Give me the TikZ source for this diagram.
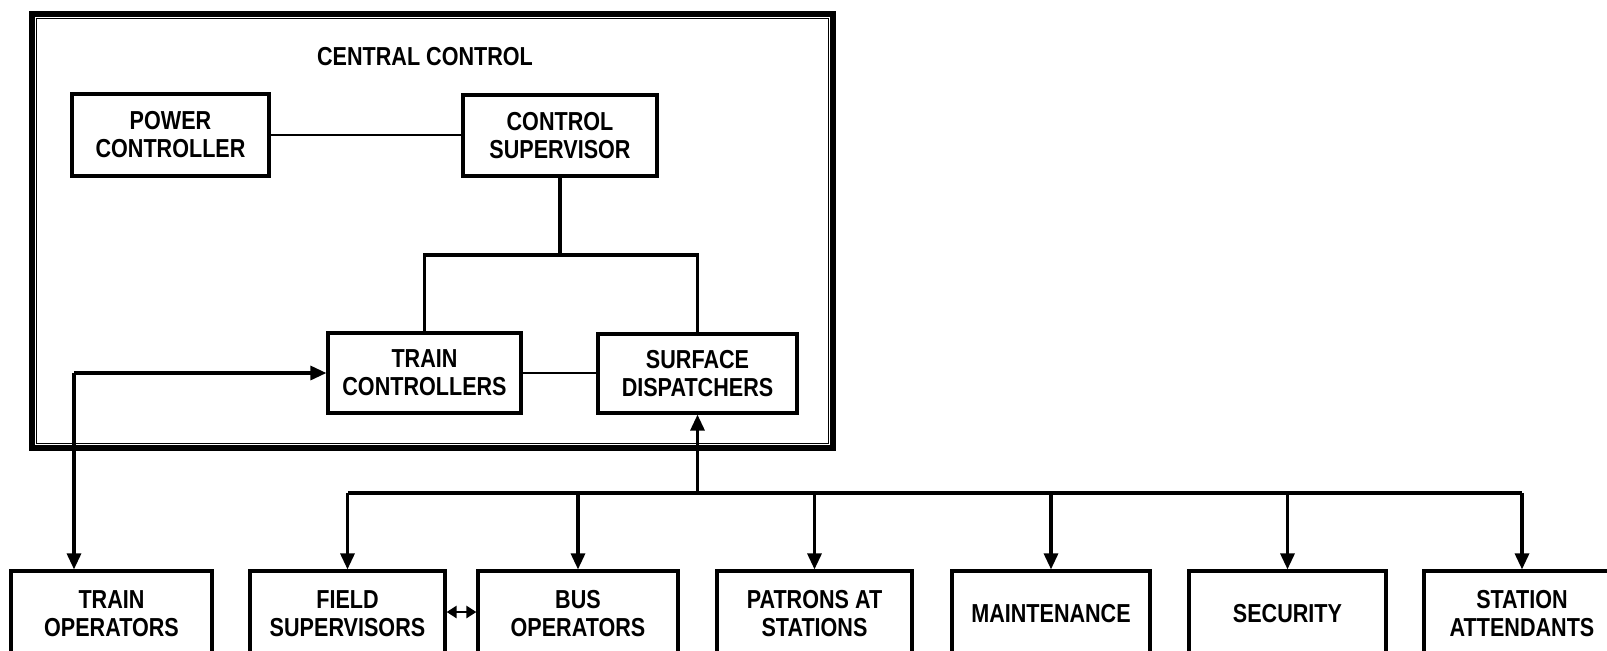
\documentclass[tikz,border=0pt]{standalone}
\usepackage{fontspec}
\setmainfont{Liberation Sans}[FakeStretch=0.83]
\usetikzlibrary{arrows.meta}
\begin{document}
\begin{tikzpicture}[x=0.5pt,y=-0.5pt,
  lbl/.style={font=\bfseries\fontsize{13}{14}\selectfont, align=center},
  box/.style={lbl, draw, line width=1.6pt, inner sep=0pt},
  conn/.style={line width=1.6pt},
  thinconn/.style={line width=1.2pt},
  arr/.style={conn, -{Triangle[length=8pt,width=7pt]}},
  bidir/.style={line width=1.4pt, {Triangle[length=5pt,width=6pt]}-{Triangle[length=5pt,width=6pt]}},
]
\useasboundingbox (0,0) rectangle (1607,650);
\clip (0,0) rectangle (1607,650);
\fill[white] (0,0) rectangle (1607,650);

% central control frame
\node[draw, line width=2.6pt, minimum width=400.5pt, minimum height=217pt, inner sep=0pt] (cc) at (432.5,231) {};
\draw[line width=0.7pt] ([shift={(7,7)}]cc.north west) rectangle ([shift={(-7,-7)}]cc.south east);
\node[lbl] (title) at (425,57) {CENTRAL CONTROL};

% inner boxes
\node[box, minimum width=98.5pt, minimum height=41pt] (PC) at (170.5,135) {POWER\\CONTROLLER};
\node[box, minimum width=97pt, minimum height=40.5pt] (CS) at (560,135.5) {CONTROL\\SUPERVISOR};
\node[box, minimum width=96.5pt, minimum height=40pt] (TC) at (424.5,373) {TRAIN\\CONTROLLERS};
\node[box, minimum width=99.5pt, minimum height=39.5pt] (SD) at (697.5,373.5) {SURFACE\\DISPATCHERS};

% bottom boxes
\node[box, minimum width=100.5pt, minimum height=43pt] (TO) at (111.5,614) {TRAIN\\OPERATORS};
\node[box, minimum width=97.5pt, minimum height=43pt] (FS) at (347.5,614) {FIELD\\SUPERVISORS};
\node[box, minimum width=100pt, minimum height=43pt] (BO) at (578,614) {BUS\\OPERATORS};
\node[box, minimum width=97.5pt, minimum height=43pt] (PS) at (814.5,614) {PATRONS AT\\STATIONS};
\node[box, minimum width=99pt, minimum height=43pt] (MA) at (1051,614) {MAINTENANCE};
\node[box, minimum width=98.5pt, minimum height=43pt] (SE) at (1287.5,614) {SECURITY};
\node[box, minimum width=98pt, minimum height=43pt] (ST) at (1522,614) {STATION\\ATTENDANTS};

% connectors inside central control
\draw[thinconn] (PC.east) -- (PC.east -| CS.west);
\coordinate (split) at (560,255);
\draw[conn] (CS.south) -- (CS.south |- split);
\draw[conn] (TC.north) -- (TC.north |- split) -- (SD.north |- split) -- (SD.north);
\draw[thinconn] (TC.east) -- (TC.east -| SD.west);

% train operators link
\coordinate (tcin) at (74,373);
\draw[arr] (tcin) -- (TC.west);
\draw[arr] (tcin) -- (tcin |- TO.north);

% surface bus
\coordinate (busL) at (348,493);
\coordinate (busR) at (1522,493);
\draw[conn] (busL) -- (busR);
\draw[arr] (SD.south |- busL) -- (SD.south);
\foreach \n in {FS,BO,PS,MA,SE,ST}{
  \draw[arr] (\n.north |- busL) -- (\n.north);
}
\draw[bidir] (FS.east |- 0,612) -- (BO.west |- 0,612);
\end{tikzpicture}
\end{document}
